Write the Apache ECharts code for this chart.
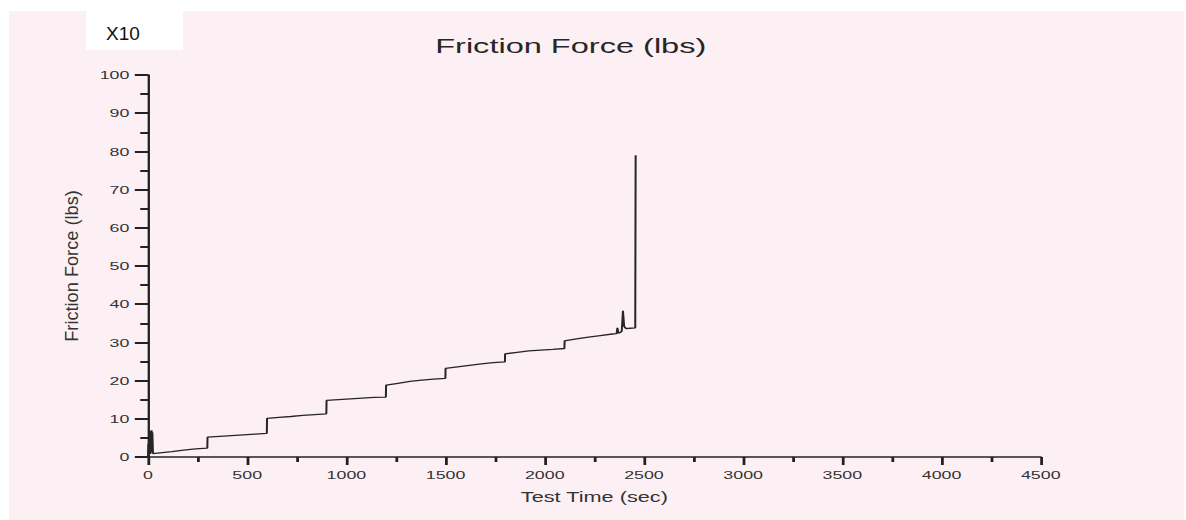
<!DOCTYPE html>
<html><head><meta charset="utf-8">
<script src="https://cdn.jsdelivr.net/npm/echarts@6/dist/echarts.min.js"></script>
<style>
html,body{margin:0;padding:0;background:#fff;overflow:hidden;}
#wrap{width:1186px;height:520px;overflow:hidden;position:relative;}
#chart{position:absolute;left:0;top:0;height:520px;transform-origin:0 0;}
</style></head><body>
<div id="wrap"><div id="chart"></div></div>
<script>
// ---- data ----
const chartTitle = 'Friction Force (lbs)';
const xAxisName = 'Test Time (sec)';
const yAxisName = 'Friction Force (lbs)';
const cornerNote = 'X10';
const timeSec = [
  0, 2, 4, 6, 8, 10, 12, 14, 16, 18, 20, 22, 25,
  60, 120, 180, 240, 299,
  300, 360, 420, 480, 540, 599,
  600, 660, 720, 780, 840, 899,
  900, 960, 1020, 1080, 1140, 1199,
  1200, 1260, 1320, 1380, 1440, 1499,
  1500, 1560, 1620, 1680, 1740, 1799,
  1800, 1860, 1920, 1980, 2040, 2099,
  2100, 2160, 2220, 2280, 2340, 2362, 2366, 2372, 2380, 2388, 2394, 2400, 2410, 2430, 2456, 2458
];
const frictionLbs = [
  0, 3.5, 0.5, 4.5, 1, 5.5, 0.8, 6.8, 1.2, 7, 1.5, 6.5, 0.9,
  1.1, 1.4, 1.8, 2.1, 2.3,
  5.2, 5.4, 5.6, 5.8, 6.0, 6.2,
  10.1, 10.4, 10.6, 10.9, 11.1, 11.3,
  14.8, 15.0, 15.2, 15.4, 15.6, 15.7,
  18.8, 19.3, 19.8, 20.1, 20.4, 20.6,
  23.2, 23.6, 24.0, 24.4, 24.7, 24.9,
  27.0, 27.4, 27.8, 28.0, 28.2, 28.4,
  30.4, 30.9, 31.4, 31.8, 32.2, 32.3, 33.8, 32.4, 32.6, 32.9, 38.3, 34.2, 33.6, 33.7, 33.8, 79
];
const xTicks = { min: 0, max: 4500, interval: 500 };
const yTicks = { min: 0, max: 100, interval: 10 };

// ---- the scanned original is stretched horizontally; reproduce that ----
const S = 1.55;
const W = 1186 / S;
const el = document.getElementById('chart');
el.style.width = W + 'px';
el.style.transform = 'scaleX(' + S + ')';

const chart = echarts.init(el, null, { renderer: 'svg' });
const seriesData = timeSec.map((t, i) => [t, frictionLbs[i]]);
const txt = '#333333';
const axisCol = '#222222';
const font = '"Liberation Sans", Arial, sans-serif';

chart.setOption({
  animation: false,
  backgroundColor: '#ffffff',
  graphic: [
    { type: 'rect', z: -10, silent: true,
      shape: { x: 9 / S, y: 11, width: (1184 - 9) / S, height: 520 - 11 },
      style: { fill: '#fcf0f4' } },
    { type: 'rect', z: -9, silent: true,
      shape: { x: 86 / S, y: 11, width: (183 - 86) / S, height: 39 },
      style: { fill: '#ffffff' } },
    { type: 'text', z: 10, x: 106 / S, y: 33, scaleX: 1 / S, silent: true,
      style: { text: cornerNote, font: '19px ' + font, fill: '#111',
               verticalAlign: 'middle' } },
    // y-axis title (rotated; elongated like the scanned original)
    { type: 'text', z: 10, x: 72 / S, y: 266, rotation: Math.PI / 2,
      scaleX: 1.3, scaleY: 0.82, silent: true,
      style: { text: yAxisName, font: '14px ' + font, fill: txt,
               align: 'center', verticalAlign: 'middle' } }
  ],
  title: {
    text: chartTitle,
    left: 563 / S, top: 30, textAlign: 'center',
    textStyle: { fontFamily: font, fontSize: 21, fontWeight: 'normal', color: '#262626' }
  },
  grid: { left: 148 / S, right: 145 / S, top: 75, bottom: 63, containLabel: false },
  xAxis: {
    type: 'value', min: xTicks.min, max: xTicks.max, interval: xTicks.interval,
    name: xAxisName, nameLocation: 'middle', nameGap: 33,
    nameTextStyle: { fontFamily: font, fontSize: 14, color: txt },
    axisLine: { show: true, onZero: false, lineStyle: { color: axisCol, width: 1.5 } },
    axisTick: { show: true, inside: false, length: 8, lineStyle: { color: axisCol, width: 1.8 } },
    minorTick: { show: true, splitNumber: 2, length: 5, lineStyle: { color: axisCol, width: 1.8 } },
    splitLine: { show: false },
    axisLabel: { margin: 12, fontFamily: font, fontSize: 11.5, color: txt,
                 formatter: v => String(v) }
  },
  yAxis: {
    type: 'value', min: yTicks.min, max: yTicks.max, interval: yTicks.interval,
    axisLine: { show: true, onZero: false, lineStyle: { color: axisCol, width: 1.5 } },
    axisTick: { show: true, inside: false, length: 8.5, lineStyle: { color: axisCol, width: 2 } },
    minorTick: { show: true, splitNumber: 2, length: 5, lineStyle: { color: axisCol, width: 2 } },
    splitLine: { show: false },
    axisLabel: { margin: 12, fontFamily: font, fontSize: 11.5, color: txt,
                 formatter: v => String(v) }
  },
  series: [{
    type: 'line', data: seriesData, showSymbol: false, symbol: 'none',
    lineStyle: { color: '#262626', width: 1.3 }
  }]
});
</script>
</body></html>
